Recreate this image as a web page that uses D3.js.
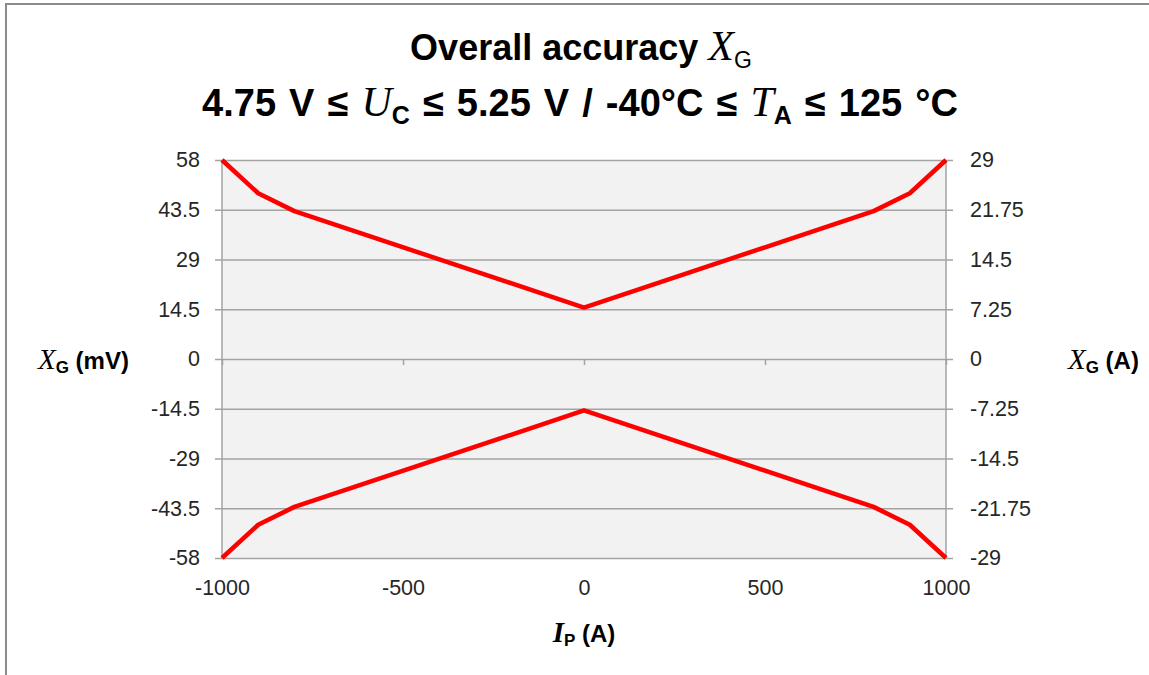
<!DOCTYPE html>
<html>
<head>
<meta charset="utf-8">
<script src="https://cdn.jsdelivr.net/npm/d3@7"></script>
<style>
  html, body { margin: 0; padding: 0; background: #fff; }
  svg { display: block; }
</style>
</head>
<body>
<svg id="chart" width="1149" height="675"></svg>
<script>
// ---- data ----
const currentA = [-1000, -900, -800, 0, 800, 900, 1000];
const upperMv = [58, 48.3, 43.1, 15, 43.1, 48.3, 58];
const lowerMv = [-58, -48.3, -43.1, -15, -43.1, -48.3, -58];
const xTicks = [-1000, -500, 0, 500, 1000];
const leftTicks = [-58, -43.5, -29, -14.5, 0, 14.5, 29, 43.5, 58];
const rightTicks = [-29, -21.75, -14.5, -7.25, 0, 7.25, 14.5, 21.75, 29];

// ---- layout ----
const svg = d3.select("#chart");
const L = 222, R = 946, T = 160, B = 558;
const sans = "'Liberation Sans', Arial, sans-serif";
const serif = "'Liberation Serif', 'Times New Roman', serif";
const gridCol = "#a3a3a3";
const textCol = "#262626";
const tickSize = 21.5;

const x = d3.scaleLinear().domain([-1000, 1000]).range([L, R]);
const yL = d3.scaleLinear().domain([-58, 58]).range([B, T]);
const yR = d3.scaleLinear().domain([-29, 29]).range([B, T]);

// outer frame (left + top edge)
svg.append("line").attr("x1", 6).attr("x2", 6).attr("y1", 3).attr("y2", 675)
  .attr("stroke", "#8c8c8c").attr("stroke-width", 2);
svg.append("line").attr("x1", 5).attr("x2", 1149).attr("y1", 4).attr("y2", 4)
  .attr("stroke", "#8c8c8c").attr("stroke-width", 2);

// plot background
svg.append("rect").attr("x", L).attr("y", T).attr("width", R - L).attr("height", B - T)
  .attr("fill", "#f2f2f2");

// left axis with gridlines
const gL = svg.append("g").attr("transform", `translate(${L},0)`)
  .call(d3.axisLeft(yL).tickValues(leftTicks).tickSize(7).tickPadding(14)
    .tickFormat(d => String(d)));
gL.select(".domain").remove();
gL.selectAll(".tick line").attr("x1", -7).attr("x2", R - L + 7)
  .attr("stroke", gridCol).attr("stroke-width", 1.5);
gL.selectAll(".tick text").attr("font-family", sans).attr("font-size", tickSize)
  .attr("fill", textCol).attr("x", -22);

// right axis labels
const gR = svg.append("g").attr("transform", `translate(${R},0)`)
  .call(d3.axisRight(yR).tickValues(rightTicks).tickSize(0).tickPadding(24)
    .tickFormat(d => String(d)));
gR.select(".domain").remove();
gR.selectAll(".tick text").attr("font-family", sans).attr("font-size", tickSize)
  .attr("fill", textCol);

// vertical axis lines
[L, R].forEach(px => {
  svg.append("line").attr("x1", px).attr("x2", px).attr("y1", T).attr("y2", B)
    .attr("stroke", gridCol).attr("stroke-width", 1.5);
});

// x axis ticks at y = 0
const gX0 = svg.append("g").attr("transform", `translate(0,${yL(0)})`)
  .call(d3.axisBottom(x).tickValues(xTicks).tickSize(6).tickFormat(""));
gX0.select(".domain").remove();
gX0.selectAll(".tick line").attr("stroke", gridCol).attr("stroke-width", 1.5);

// x tick labels at bottom
const gXB = svg.append("g").attr("transform", `translate(0,${B})`)
  .call(d3.axisBottom(x).tickValues(xTicks).tickSize(0).tickPadding(22)
    .tickFormat(d => String(d)));
gXB.select(".domain").remove();
gXB.selectAll(".tick text").attr("font-family", sans).attr("font-size", tickSize)
  .attr("fill", textCol);

// lines
const line = d3.line().x((d, i) => x(currentA[i])).y(d => yL(d));
[upperMv, lowerMv].forEach(series => {
  svg.append("path").datum(series).attr("d", line)
    .attr("fill", "none").attr("stroke", "#ff0000").attr("stroke-width", 4.5)
    .attr("stroke-linejoin", "round").attr("stroke-linecap", "butt");
});

// ---- titles ----
function richText(parent, px, py, anchor, parts, wordSpacing) {
  const t = parent.append("text").attr("x", px).attr("y", py)
    .attr("text-anchor", anchor).attr("fill", "#000");
  if (wordSpacing) t.attr("word-spacing", wordSpacing);
  let shift = 0;
  parts.forEach(p => {
    const s = t.append("tspan").text(p.t)
      .attr("font-family", p.serif ? serif : sans)
      .attr("font-style", p.italic ? "italic" : "normal")
      .attr("font-weight", p.bold === false ? "normal" : "bold")
      .attr("font-size", p.size);
    const target = p.sub || 0;
    if (target !== shift) { s.attr("dy", target - shift); shift = target; }
  });
  return t;
}

richText(svg, 581, 60, "middle", [
  { t: "Overall accuracy ", size: 36 },
  { t: "X", size: 42, serif: true, italic: true, bold: false },
  { t: "G", size: 23, sub: 8, bold: false }
]);

richText(svg, 580, 116, "middle", [
  { t: "4.75 V ≤ ", size: 38 },
  { t: "U", size: 42, serif: true, italic: true, bold: false },
  { t: "C", size: 25, sub: 8 },
  { t: " ≤ 5.25 V / -40°C ≤ ", size: 38 },
  { t: "T", size: 42, serif: true, italic: true, bold: false },
  { t: "A", size: 25, sub: 8 },
  { t: " ≤ 125 °C", size: 38 }
], 2.5);

richText(svg, 38, 369, "start", [
  { t: "X", size: 29, serif: true, italic: true, bold: false },
  { t: "G", size: 17, sub: 4 },
  { t: " (mV)", size: 24 }
]);

richText(svg, 1068, 369, "start", [
  { t: "X", size: 29, serif: true, italic: true, bold: false },
  { t: "G", size: 17, sub: 4 },
  { t: " (A)", size: 24 }
]);

richText(svg, 584, 642, "middle", [
  { t: "I", size: 29, serif: true, italic: true, bold: true },
  { t: "P", size: 17, sub: 4 },
  { t: " (A)", size: 24 }
]);
</script>
</body>
</html>
